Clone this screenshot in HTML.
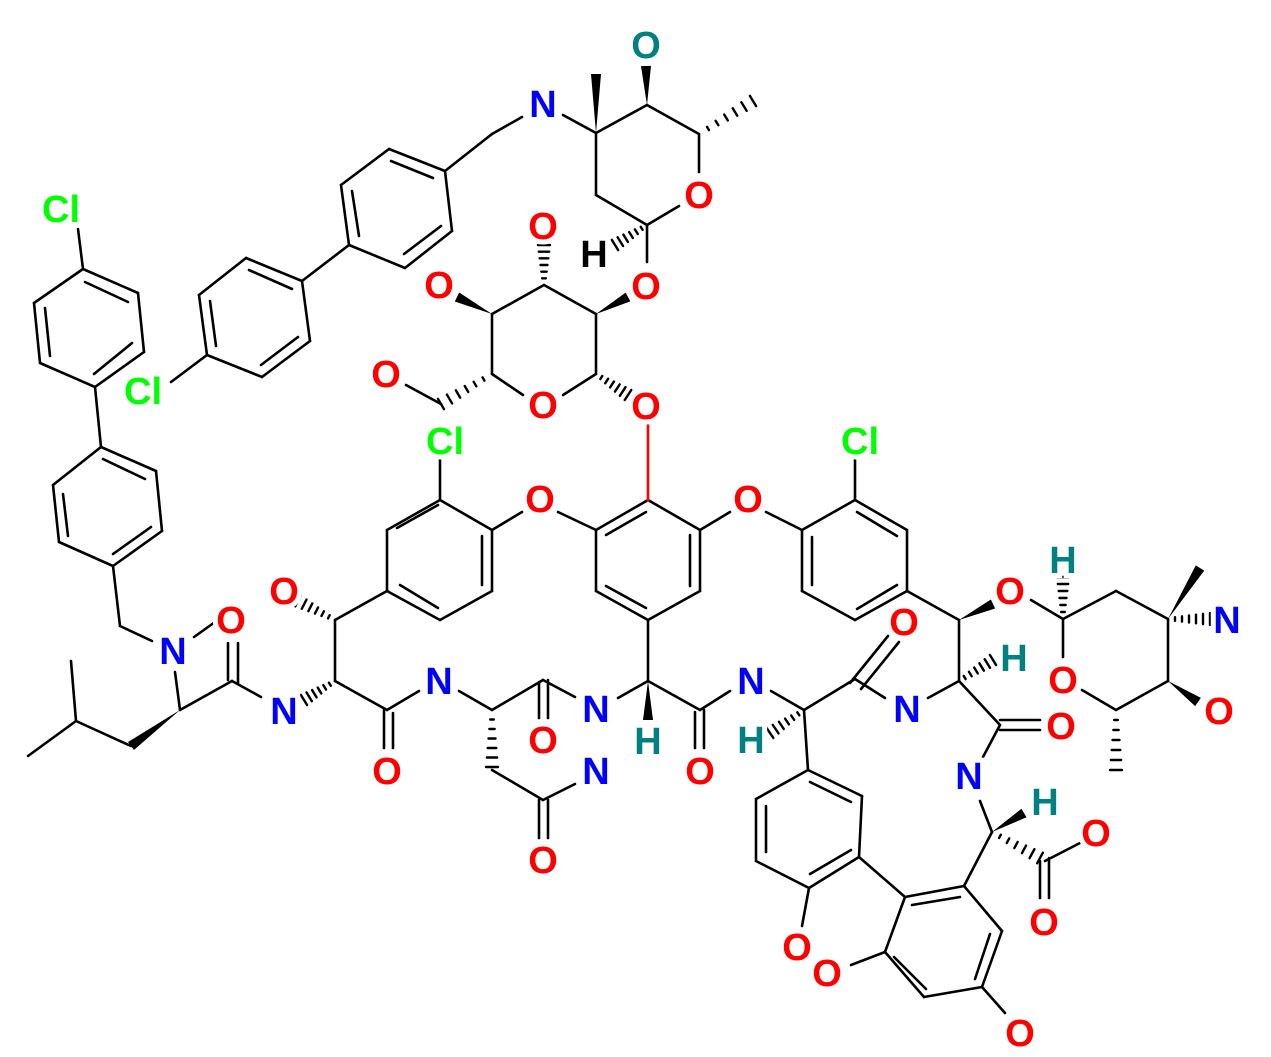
<!DOCTYPE html>
<html><head><meta charset="utf-8"><style>
html,body{margin:0;padding:0;background:#fff;}
svg{display:block;}
text{font-family:"Liberation Sans",Arial,sans-serif;font-weight:bold;font-size:38px;text-anchor:middle;paint-order:stroke;stroke:#fff;stroke-width:10px;}
</style></head><body>
<svg id="s" width="1271" height="1057" viewBox="0 0 1271 1057" xmlns="http://www.w3.org/2000/svg">
<g id="b" stroke="#000" stroke-width="2.6" stroke-linecap="round" fill="none"></g>
<g id="f" fill="#000"></g>
<g id="t"></g>
</svg>
<script>
var NS="http://www.w3.org/2000/svg";
var gb=document.getElementById('b'),gf=document.getElementById('f'),gt=document.getElementById('t');
function L(a,b,c,d,col){var e=document.createElementNS(NS,'line');e.setAttribute('x1',a);e.setAttribute('y1',b);e.setAttribute('x2',c);e.setAttribute('y2',d);if(col)e.setAttribute('stroke',col);gb.appendChild(e);}
function P(pts){for(var i=0;i<pts.length-1;i++)L(pts[i][0],pts[i][1],pts[i+1][0],pts[i+1][1]);}
function R(p){P(p.concat([p[0]]));}
function W(a,b,c,d){var dx=c-a,dy=d-b,l=Math.hypot(dx,dy),nx=-dy/l*5,ny=dx/l*5;var e=document.createElementNS(NS,'polygon');e.setAttribute('points',a+','+b+' '+(c+nx)+','+(d+ny)+' '+(c-nx)+','+(d-ny));gf.appendChild(e);}
function H(a,b,c,d){var dx=c-a,dy=d-b,l=Math.hypot(dx,dy),ux=-dy/l,uy=dx/l;var n=6;for(var i=1;i<=n;i++){var t=i/n,x=a+dx*t,y=b+dy*t,w=1+5*t;var e=document.createElementNS(NS,'line');e.setAttribute('x1',x+ux*w);e.setAttribute('y1',y+uy*w);e.setAttribute('x2',x-ux*w);e.setAttribute('y2',y-uy*w);e.setAttribute('stroke-width','2.4');gb.appendChild(e);}}
function T(x,y,s,c){var e=document.createElementNS(NS,'text');e.setAttribute('x',x);e.setAttribute('y',y+14);e.setAttribute('fill',c);e.textContent=s;gt.appendChild(e);}
var RED='#ff0000',BLU='#0000ff',GRN='#00ff00',TEAL='#008080',BLK='#000';
R([[83,269],[138,293],[144,352],[95,387],[40,363],[34,303]]);
L(85,282,128,302);L(94,374,132,343);L(45,308,50,356);
L(78,229,83,269);L(95,387,101,447);
R([[101,447],[156,471],[162,531],[113,566],[59,542],[53,485]]);
L(103,459,145,479);L(113,554,151,527);L(63,494,68,536);
L(113,566,120,626);L(120,626,152,641);L(194,637,222,617);L(175,672,180,710);
L(180,710,232,681);L(228,643,228,680);L(238,643,238,684);L(232,681,261,697);
W(180,710,131,746);L(131,746,76,721);L(76,721,71,661);L(76,721,28,756);
H(335,681,304,700);L(335,681,335,620);H(335,620,298,601);L(335,620,387,591);
L(335,681,387,710);L(384,710,384,748);L(393,713,393,748);
L(387,710,419,691);L(459,691,492,710);L(492,710,543,680);L(539,682,539,718);L(548,680,548,718);
L(543,680,575,697);H(492,710,492,767);L(492,770,543,800);L(543,800,575,784);L(539,800,539,838);L(548,800,548,838);
R([[440,500],[492,530],[492,591],[440,620],[387,591],[387,530]]);
L(482,536,482,585);L(400,585,438,608);L(397,528,438,505);L(440,460,440,500);
L(492,530,522,512);L(558,512,596,530);
R([[648,500],[700,530],[700,591],[648,620],[596,591],[596,530]]);
L(606,535,646,512);L(690,535,690,586);L(606,586,646,608);
L(648,500,648,425,RED);
L(700,530,730,512);L(766,512,802,530);
R([[855,500],[907,530],[907,591],[855,620],[802,591],[802,530]]);
L(857,512,897,536);L(812,537,812,585);L(857,609,897,585);L(855,460,855,500);
L(648,620,648,681);W(648,681,648,720);L(648,681,618,698);
L(648,681,700,710);L(695,712,695,748);L(704,710,704,748);
L(700,710,730,691);L(771,691,804,710);H(804,710,770,733);
L(804,710,855,679);L(850,683,888,636);L(861,689,899,642);
L(855,679,885,698);L(928,698,959,681);H(959,681,993,660);
L(959,681,959,620);W(959,620,993,604);L(959,620,907,591);
L(959,681,1000,725);L(1000,720,1040,720);L(1000,730,1040,730);
L(1000,725,983,757);L(980,801,992,832);W(992,832,1024,813);
H(992,832,1040,858);L(1045,861,1080,843);L(1040,861,1040,898);L(1049,858,1049,898);
L(992,832,964,886);
R([[964,886],[1002,931],[982,987],[924,997],[885,952],[905,897]]);
L(912,905,960,897);L(990,934,975,979);L(894,957,926,989);
L(982,987,1005,1013);L(885,952,851,965);L(905,897,859,857);
L(804,710,808,770);
R([[808,770],[862,796],[859,857],[809,888],[756,861],[756,799]]);
L(810,782,851,802);L(810,874,851,850);L(766,806,766,852);
L(809,888,802,926);
L(1031,600,1063,619);H(1063,619,1063,577);
L(1063,619,1116,591);L(1116,591,1168,619);W(1168,619,1200,568);H(1168,619,1210,619);
L(1168,619,1168,681);W(1168,681,1198,702);L(1168,681,1116,710);H(1116,710,1116,770);
L(1116,710,1082,690);L(1063,657,1063,619);
P([[596,374],[596,314],[544,285],[492,314],[492,374],[523,395]]);L(596,374,563,395);
H(544,285,544,245);W(492,314,457,297);W(596,314,628,297);H(596,374,628,395);
H(492,374,441,404);L(441,404,406,385);
L(647,262,647,225);L(647,225,679,206);L(699,172,699,134);H(699,134,753,101);
L(699,134,647,105);W(647,105,646,66);L(647,105,596,133);W(596,133,596,74);
L(596,133,563,115);L(596,133,596,195);L(596,195,647,225);H(647,225,615,245);
L(522,117,492,134);L(492,134,445,171);
R([[445,171],[389,149],[341,185],[349,245],[405,268],[452,231]]);
L(391,161,433,178);L(352,191,359,236);L(404,254,441,226);
L(349,245,302,281);
R([[302,281],[246,258],[199,295],[207,355],[262,377],[310,341]]);
L(249,270,292,289);L(210,301,216,346);L(261,365,298,337);
L(207,355,171,382);
T(61,208,'Cl',GRN);T(143,390,'Cl',GRN);T(445,440,'Cl',GRN);T(860,440,'Cl',GRN);
T(173,650,'N',BLU);T(231,619,'O',RED);T(284,710,'N',BLU);T(284,590,'O',RED);
T(387,770,'O',RED);T(439,680,'N',BLU);T(543,739,'O',RED);T(596,708,'N',BLU);
T(596,770,'N',BLU);T(543,859,'O',RED);T(540,498,'O',RED);T(748,498,'O',RED);
T(648,740,'H',TEAL);T(700,770,'O',RED);T(751,680,'N',BLU);T(751,739,'H',TEAL);
T(904,621,'O',RED);T(907,708,'N',BLU);T(1014,657,'H',TEAL);T(1010,590,'O',RED);
T(1061,725,'O',RED);T(969,775,'N',BLU);T(1045,801,'H',TEAL);T(1096,832,'O',RED);
T(1044,921,'O',RED);T(1020,1032,'O',RED);T(827,972,'O',RED);T(797,946,'O',RED);
T(1063,559,'H',TEAL);T(1227,619,'N',BLU);T(1219,710,'O',RED);T(1063,679,'O',RED);
T(543,404,'O',RED);T(543,225,'O',RED);T(439,284,'O',RED);T(646,285,'O',RED);
T(646,405,'O',RED);T(386,373,'O',RED);T(699,194,'O',RED);T(646,44,'O',TEAL);
T(543,103,'N',BLU);T(594,253,'H',BLK);
</script>
</body></html>
